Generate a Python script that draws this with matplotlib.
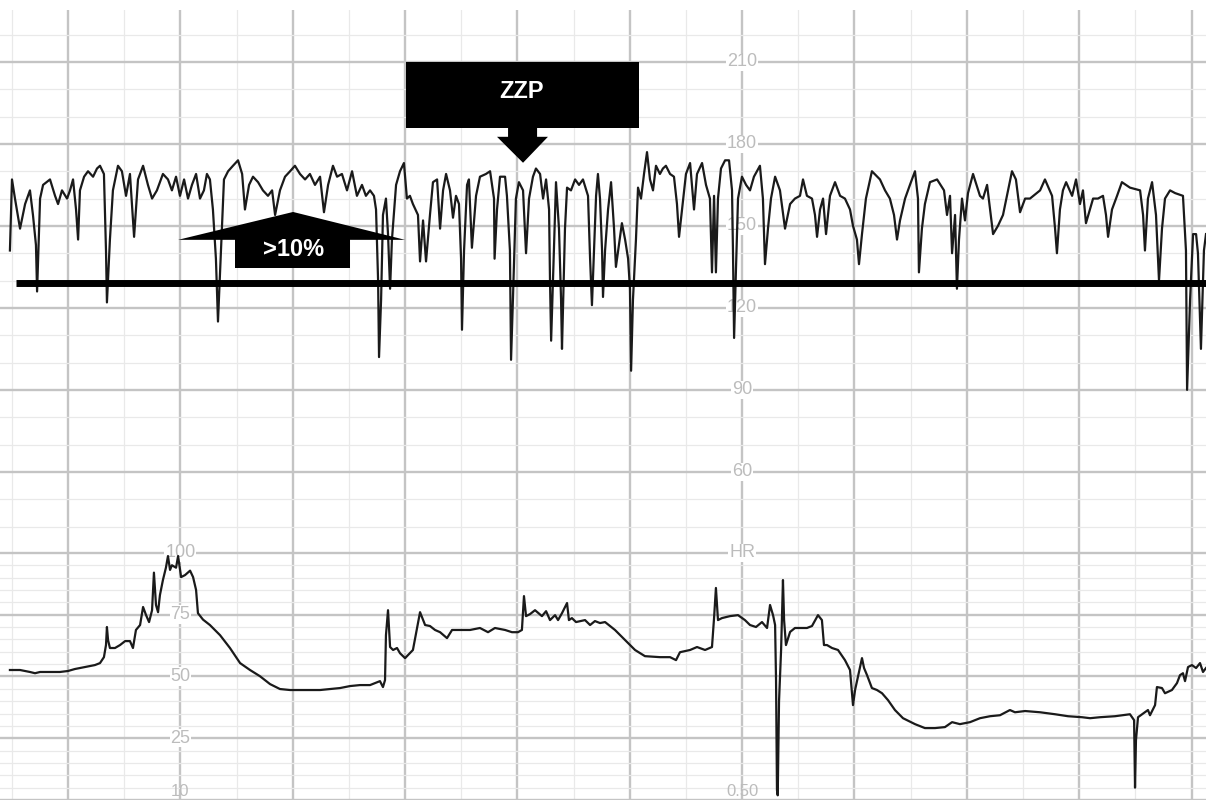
import matplotlib.pyplot as plt
from matplotlib.patches import Rectangle, Polygon
from matplotlib.ticker import MultipleLocator

# fetal heart rate, time in seconds / beats per minute
fhr_t = [
    29.0, 30.1, 31.7, 34.4, 37.1, 39.7, 41.3, 42.9, 43.5, 45.1,
    46.7, 50.4, 53.1, 54.7, 56.8, 59.5, 61.1, 62.7, 64.3, 65.4,
    66.4, 68.6, 70.7, 73.4, 75.5, 77.1, 79.2, 80.3, 80.8, 82.4,
    84.0, 86.7, 88.8, 91.0, 93.1, 95.3, 97.4, 100.1, 102.7, 104.9,
    107.5, 110.7, 113.4, 115.5, 117.7, 119.8, 122.0, 124.1, 126.2, 128.4,
    130.5, 132.6, 134.2, 135.8, 137.4, 139.0, 140.1, 141.7, 143.3, 145.5,
    148.1, 150.8, 153.0, 154.5, 156.7, 158.8, 161.5, 164.1, 166.8, 169.0,
    170.6, 173.2, 175.9, 178.6, 181.2, 183.9, 186.6, 189.2, 191.9, 194.6,
    196.7, 198.9, 201.5, 203.7, 206.3, 209.0, 211.7, 214.3, 217.0, 219.1,
    221.3, 223.4, 224.5, 225.6, 226.1, 227.2, 228.2, 229.8, 230.9, 232.0,
    233.0, 235.2, 237.3, 239.4,
    241.0, 242.6, 244.2, 246.9, 248.0, 249.6, 251.2, 253.3, 254.9, 257.1,
    258.7, 260.3, 261.9, 264.0, 265.6, 267.2, 268.8, 269.9, 270.4, 271.5,
    273.1, 274.1, 275.7, 277.9, 280.0, 283.2, 285.4, 287.5, 287.8, 289.1,
    290.7, 293.4, 294.4, 296.0, 296.6, 297.6, 299.2, 300.8, 303.0, 304.6,
    306.2, 308.3, 309.9, 312.1, 313.7, 315.3, 316.9, 317.4, 318.0, 319.5,
    320.6, 322.2, 323.3, 323.8, 325.4, 326.5, 328.6, 330.8, 332.9, 335.0,
    337.7, 338.8, 339.8, 340.9, 342.0, 343.0, 344.1, 345.2, 345.7, 346.8,
    348.4, 350.0, 351.6, 352.6, 354.2, 355.8, 357.5, 359.1, 360.1, 360.7,
    361.7, 363.3, 364.4, 366.0, 367.6, 369.2, 370.8, 372.4, 374.0, 376.1,
    377.7, 379.3, 381.5, 383.6, 385.2, 386.3, 387.9, 390.0, 392.2, 394.3,
    395.9, 398.6, 400.7, 402.8, 403.9, 405.0, 406.0, 407.1, 408.7, 410.9,
    413.0, 414.6, 415.1, 415.7, 416.7, 417.8, 419.9, 422.1, 424.2, 426.3,
    429.5, 431.1, 432.2, 433.8, 435.4, 437.6, 440.2, 442.9, 445.6, 448.2,
    450.9,
    452.5, 454.6, 457.3, 458.9, 460.0, 461.6, 463.2, 464.8, 466.9, 469.6,
    472.3, 474.9, 477.6, 479.2, 481.3, 482.4, 484.0, 486.1, 489.3, 493.6,
    496.3, 498.9, 501.1, 502.7, 504.3, 507.0, 509.6, 512.3, 513.9, 514.4,
    516.0, 517.6, 520.3, 524.1, 527.8, 529.4, 531.0, 532.1, 533.7, 534.7,
    535.8, 537.4, 539.0, 540.6, 543.3, 547.0, 548.6, 550.8, 552.4, 554.0,
    556.6, 559.3, 562.0, 564.1, 566.2, 568.4, 571.1, 573.7, 579.1, 581.7,
    585.5, 587.1, 588.1, 589.7, 591.3, 593.0, 596.2, 598.3, 600.4, 602.0,
    603.6, 607.4, 610.0, 612.7, 614.3, 615.4, 617.5, 620.2, 622.8, 627.1,
    632.5, 634.1, 635.1, 636.7, 638.9, 641.0, 642.6, 644.2, 645.8, 648.5,
    651.2, 655.4, 657.0, 657.6, 659.2, 660.8, 662.4, 663.4, 665.0, 666.6,
    667.7,
]
fhr_bpm = [
    141, 167, 160, 149, 158, 163, 154, 143, 126, 160,
    165, 167, 161, 158, 163, 160, 163, 167, 156, 145,
    163, 168, 170, 168, 171, 172, 169, 141, 122, 145,
    163, 172, 170, 161, 169, 146, 167, 172, 165, 160,
    163, 169, 167, 163, 168, 161, 167, 160, 165, 169,
    160, 163, 169, 167, 156, 138, 115, 141, 167, 170,
    172, 174, 169, 156, 165, 168, 166, 163, 161, 163,
    154, 163, 168, 170, 172, 169, 167, 169, 165, 168,
    155, 165, 172, 168, 169, 163, 170, 161, 165, 161,
    163, 161, 156, 130, 102, 123, 154, 160, 147, 127,
    145, 165, 170, 173,
    160, 161, 158, 154, 137, 152, 137, 154, 166, 167,
    149, 163, 169, 163, 153, 161, 158, 138, 112, 141,
    165, 167, 142, 161, 168, 169, 170, 160, 138, 156,
    168, 168, 161, 141, 101, 123, 160, 166, 163, 140,
    160, 168, 171, 169, 160, 167, 156, 130, 108, 141,
    166, 149, 123, 105, 149, 164, 163, 167, 165, 167,
    161, 138, 121, 141, 161, 169, 160, 141, 124, 141,
    156, 166, 149, 135, 143, 151, 145, 138, 127, 97,
    123, 145, 164, 160, 169, 177, 167, 163, 172, 169,
    171, 172, 169, 168, 158, 146, 156, 169, 173, 156,
    169, 173, 165, 160, 133, 161, 133, 160, 171, 174,
    174, 163, 141, 109, 134, 160, 168, 165, 163, 168,
    172, 160, 136, 149, 160, 168, 163, 149, 158, 160,
    161,
    167, 161, 160, 154, 146, 156, 160, 147, 161, 166,
    161, 160, 156, 150, 145, 136, 147, 160, 170, 167,
    163, 160, 154, 145, 152, 160, 165, 170, 160, 133,
    149, 158, 166, 167, 163, 154, 161, 140, 154, 127,
    145, 160, 152, 162, 169, 161, 160, 165, 156, 147,
    150, 154, 163, 170, 167, 155, 160, 160, 163, 167,
    161, 149, 140, 156, 163, 166, 161, 167, 158, 163,
    151, 160, 160, 161, 154, 146, 156, 161, 166, 164,
    163, 154, 141, 160, 166, 154, 130, 149, 160, 163,
    162, 161, 141, 90, 123, 147, 147, 140, 105, 141,
    147,
]

# uterine activity, time in seconds / relative units
ua_t = [
    29.0, 34.4, 39.7, 42.4, 45.1, 50.4, 55.7, 60.0, 63.7, 69.1,
    74.4, 77.1, 79.2, 80.3, 80.8, 81.4, 82.4, 85.1, 87.8, 90.5,
    93.1, 94.7, 96.3, 98.5, 100.1, 101.7, 103.3, 104.9, 105.9, 107.0,
    108.1, 109.1, 110.7, 112.3, 113.4, 114.5, 115.5, 117.7, 118.8, 120.4,
    122.5, 125.2, 126.8, 128.4, 129.4, 132.1, 135.8, 141.2, 146.5, 151.9,
    157.2, 162.5, 167.9, 173.2, 178.6, 183.9, 194.6, 199.9, 205.3, 210.6,
    215.9, 221.3, 226.6, 228.2, 229.3, 229.8, 230.9, 232.0, 233.6, 235.7,
    237.3, 240.0, 244.2, 248.0, 250.7, 253.3, 256.0, 258.7, 262.4, 265.1,
    269.3, 274.7, 280.0, 284.3, 288.0, 293.4, 297.1, 300.3, 302.4, 303.5,
    304.6, 306.7, 309.4, 313.1, 315.3, 317.4, 320.1, 321.7, 323.8, 326.5,
    327.5, 329.1, 331.3, 336.1, 338.8, 341.4, 344.1, 346.8, 352.1, 357.5,
    362.8, 368.1, 376.1, 381.5, 384.7, 386.8, 392.2, 395.9, 400.2, 403.9,
    405.0, 406.0, 407.1, 409.2, 413.5, 417.8, 421.5, 424.2, 427.4, 430.6,
    433.3, 434.9, 436.5, 437.6, 438.1, 438.6, 439.0, 439.7, 440.8, 441.8,
    442.4, 443.4, 445.6, 448.2, 450.9, 454.6, 457.3, 460.5, 462.6, 463.7,
    465.3, 468.0, 471.2, 474.9, 477.6, 479.2, 480.3, 481.9, 484.0, 485.1,
    486.7, 489.3, 492.0, 494.7, 497.9, 501.6, 505.9, 512.3, 517.6, 523.0,
    528.3, 532.1, 536.3, 541.7, 547.0, 552.4, 557.7, 563.0, 565.7, 571.1,
    579.1, 587.1, 594.0, 601.5, 605.8, 611.1, 619.1, 627.1, 629.3, 629.8,
    630.3, 631.4, 635.1, 636.7, 637.8, 640.5, 641.5, 644.2, 645.8, 649.5,
    652.2, 653.8, 655.4, 656.5, 658.1, 660.2, 662.4, 664.5, 666.1, 667.7,
]
ua_val = [
    52.6, 52.6, 51.8, 51.3, 51.8, 51.8, 51.8, 52.2, 53.0, 53.8,
    54.6, 55.4, 57.8, 62.7, 70.0, 64.7, 61.5, 61.5, 62.7, 64.3,
    64.3, 61.5, 68.8, 70.8, 78.1, 74.8, 72.0, 76.8, 92.0, 78.9,
    76.0, 82.9, 89.0, 94.0, 98.7, 93.1, 95.0, 94.0, 98.7, 90.2,
    91.0, 92.8, 90.2, 85.0, 75.6, 73.0, 70.8, 66.7, 61.5, 55.4,
    52.6, 50.1, 46.9, 44.9, 44.5, 44.5, 44.5, 44.9, 45.3, 46.1,
    46.5, 46.5, 48.1, 45.7, 48.5, 66.7, 76.8, 61.9, 60.7, 61.5,
    59.4, 57.4, 60.7, 76.0, 70.8, 70.4, 68.8, 67.9, 65.5, 68.8,
    68.8, 68.8, 69.6, 67.9, 69.6, 68.8, 67.9, 67.9, 68.8, 82.5,
    74.4, 75.2, 76.8, 74.4, 76.4, 72.8, 74.8, 72.8, 75.6, 79.7,
    72.8, 73.6, 72.0, 72.8, 70.8, 72.4, 71.6, 72.0, 68.8, 64.7,
    60.7, 58.2, 57.8, 57.8, 56.6, 59.8, 60.7, 61.9, 60.7, 61.9,
    73.6, 85.8, 72.8, 73.6, 74.4, 74.8, 72.8, 70.8, 70.0, 72.0,
    69.6, 78.9, 74.8, 70.8, 48.5, 4.0, 1.9, 40.0, 60.7, 89.0,
    72.8, 62.7, 68.0, 69.6, 69.6, 69.6, 70.4, 74.8, 72.8, 62.7,
    62.7, 61.5, 60.7, 56.6, 52.6, 38.4, 44.5, 50.1, 57.4, 53.4,
    50.5, 45.3, 44.5, 43.2, 40.4, 36.4, 33.1, 30.7, 29.1, 29.1,
    29.5, 31.5, 30.7, 31.5, 33.1, 33.9, 34.3, 36.4, 35.5, 36.0,
    35.5, 34.7, 33.9, 33.5, 33.1, 33.5, 33.9, 34.7, 32.3, 5.0,
    24.2, 33.5, 35.5, 36.4, 34.3, 38.4, 45.7, 45.3, 43.2, 44.5,
    47.3, 50.5, 51.3, 48.1, 53.8, 54.6, 53.4, 55.4, 51.8, 53.4,
]

fhr_scale = [210, 180, 150, 120, 90, 60]
ua_scale = [100, 75, 50, 25]
baseline_bpm = 129

TRACE = '#1a1a1a'
LABEL = '#bcbcbc'
plt.rcParams['font.family'] = ['Liberation Sans', 'DejaVu Sans']

fig = plt.figure(figsize=(12.06, 8), dpi=100)
ax1 = fig.add_axes([0, 0.32375, 1, 0.66375])
ax2 = fig.add_axes([0, 0, 1, 0.32375])

ax1.set_ylim(34.7, 229)
ax2.set_ylim(0, 104.8)

def paper(ax, ymaj, ymin):
    ax.set_xlim(23.7, 667.7)
    ax.xaxis.set_major_locator(MultipleLocator(60))
    ax.xaxis.set_minor_locator(MultipleLocator(30))
    ax.yaxis.set_major_locator(MultipleLocator(ymaj))
    ax.yaxis.set_minor_locator(MultipleLocator(ymin))
    ax.grid(which='major', color='#c4c4c4', linewidth=1.7)
    ax.grid(which='minor', color='#e9e9e9', linewidth=0.9)
    ax.tick_params(which='both', length=0, labelbottom=False, labelleft=False)
    ax.set_axisbelow(True)
    for s in ax.spines.values():
        s.set_visible(False)

paper(ax1, 30, 10)
paper(ax2, 25, 5)

ax1.plot(fhr_t, fhr_bpm, color=TRACE, linewidth=1.6, zorder=3)
ax2.plot(ua_t, ua_val, color=TRACE, linewidth=1.6, zorder=3)

# baseline bar
ax1.plot([32.2, 667.7], [baseline_bpm, baseline_bpm], color='black',
         linewidth=5, solid_capstyle='butt', zorder=4)

# scale labels printed on the paper
box = dict(facecolor='white', edgecolor='none', pad=0.5)
for v in fhr_scale:
    ax1.text(420, v, str(v), ha='center', va='center', color=LABEL,
             fontsize=13, bbox=box, zorder=2)
for v in ua_scale:
    ax2.text(120, v, str(v), ha='center', va='center', color=LABEL,
             fontsize=13, bbox=box, zorder=2)
ax2.text(420, 100, 'HR', ha='center', va='center', color=LABEL, fontsize=13, bbox=box, zorder=2)
ax2.text(120, 0.4, '10', ha='center', va='bottom', color=LABEL, fontsize=12, zorder=2)
ax2.text(420, 0.4, '0.50', ha='center', va='bottom', color=LABEL, fontsize=12, zorder=2)

# ZZP box with arrow pointing down
ax1.add_patch(Rectangle((240.5, 185.9), 124.4, 24.1, facecolor='black',
                        edgecolor='none', zorder=5))
ax1.add_patch(Polygon([(295.0, 186), (310.5, 186), (310.5, 182.6), (316.3, 182.6),
                       (303.0, 173.1), (289.1, 182.6), (295.0, 182.6)],
                      closed=True, facecolor='black', edgecolor='none', zorder=5))
ax1.text(302, 199, 'ZZP', ha='center', va='center', color='white',
         fontsize=17, fontweight='bold', zorder=6)

# >10% arrow pointing up
ax1.add_patch(Polygon([(118.8, 144.9), (180.2, 155.1), (240.0, 144.9)],
                      closed=True, facecolor='black', edgecolor='none', zorder=5))
ax1.add_patch(Rectangle((149.2, 134.6), 61.4, 10.5, facecolor='black',
                        edgecolor='none', zorder=5))
ax1.text(180.2, 141.5, '>10%', ha='center', va='center', color='white',
         fontsize=17, fontweight='bold', zorder=6)

fig.savefig('out.png', dpi=100, facecolor='white')
